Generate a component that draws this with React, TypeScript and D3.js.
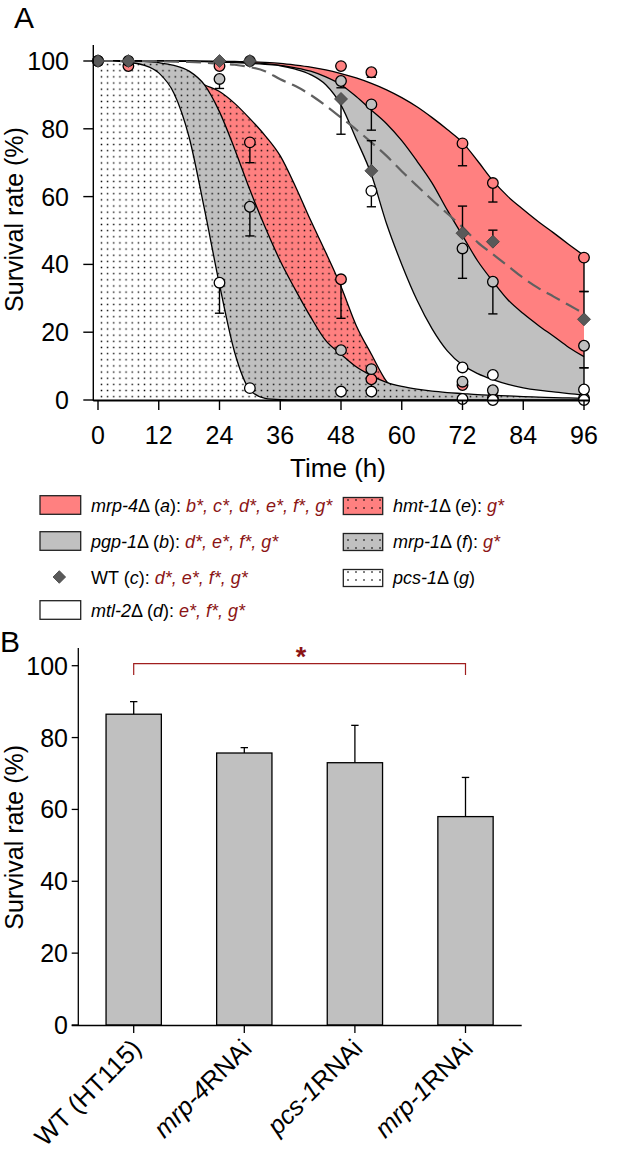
import React from 'react';
import * as d3 from 'd3';

// ---------- Panel A data ----------
const TIME_GRID = [0, 3, 6, 9, 12, 15, 18, 21, 24, 27, 30, 33, 36, 39, 42, 45, 48, 51, 54, 57, 60, 63, 66, 69, 72, 75, 78, 81, 84, 87, 90, 93, 96];
// fitted curves, one value per TIME_GRID entry
const FIT_MRP4 = [100, 100, 100, 100, 100, 100, 100, 99.95, 99.9, 99.85, 99.8, 99.6, 99.3, 98.8, 98.2, 97.4, 96.3, 95, 93.4, 91.5, 89.2, 86.5, 83.3, 79.8, 76, 70.5, 64.7, 60, 56.2, 52.6, 49.3, 45.9, 42.6];
const FIT_PGP1 = [100, 100, 100, 100, 100, 100, 99.95, 99.9, 99.8, 99.7, 99.5, 99.2, 98.7, 98, 97, 95.3, 93, 89.5, 85.5, 81.5, 76.5, 70.5, 64, 56, 48.5, 41, 35, 29.5, 25.5, 22, 18.8, 15.5, 12.8];
const FIT_WT = [100, 100, 100, 100, 99.9, 99.8, 99.7, 99.5, 99.2, 98.9, 98.2, 97, 94.6, 92.6, 90, 86.8, 83.3, 79.8, 76, 72, 67.5, 63.2, 59, 55, 51, 46.5, 43, 39.5, 36, 33, 30.5, 28, 25.5];
const FIT_MTL2 = [100, 100, 100, 100, 100, 99.9, 99.9, 99.8, 99.7, 99.5, 99.3, 99, 98.6, 97.6, 96, 93, 87, 77, 66.5, 52, 40, 29.5, 21, 14.5, 10.3, 7.8, 6, 4.6, 3.6, 2.9, 2.4, 1.9, 1.5];
const FIT_HMT1 = [100, 99.9, 99.7, 99.3, 98.5, 97.3, 95.5, 93, 91, 87.5, 83, 78, 72, 63, 53, 43.5, 33.5, 22, 13.5, 5.5, 2, 0.8, 0.3, 0.1, 0, 0, 0, 0, 0, 0, 0, 0, 0];
const FIT_MRP1 = [100, 100, 100, 99.9, 99.5, 98.7, 97, 93, 85, 74, 62, 51, 41, 32.5, 24.5, 17.5, 13.5, 9.8, 7.2, 5.2, 4, 3.2, 2.6, 2.2, 1.9, 1.6, 1.4, 1.2, 1, 0.85, 0.7, 0.6, 0.5];
const FIT_PCS1 = [100, 100, 99.6, 98.8, 96.5, 90.5, 77.5, 56.5, 34, 14, 3, 0.5, 0.1, 0, 0, 0, 0, 0, 0, 0, 0, 0, 0, 0, 0, 0, 0, 0, 0, 0, 0, 0, 0];

// measured points: time, mean, error (negative = bar drawn downwards)
const PTS_MRP4_T = [0, 6, 24, 48, 54, 72, 78, 96];
const PTS_MRP4_V = [100, 98.5, 98.5, 98.5, 96.7, 75.7, 64, 42];
const PTS_MRP4_E = [0, 0, 0, 0, -1.5, -6.6, -5.6, -10];
const PTS_PGP1_T = [0, 6, 24, 30, 48, 54, 72, 78, 96];
const PTS_PGP1_V = [100, 100, 94.7, 100, 94.1, 87.2, 44.7, 34.9, 16];
const PTS_PGP1_E = [0, 0, -2.8, 0, -2, -7.6, -8.8, -9.5, -6.5];
const PTS_WT_T = [0, 6, 24, 30, 48, 54, 72, 78, 96];
const PTS_WT_V = [100, 100, 100, 100, 88.8, 67.6, 49.2, 46.7, 23.8];
const PTS_WT_E = [0, 0, 0, 0, -10.4, 8.9, 8, 3.4, 8.2];
const PTS_MTL2_T = [54, 72, 78, 96];
const PTS_MTL2_V = [61.7, 9.6, 7.4, 3.1];
const PTS_MTL2_E = [-4.7, 0, 0, 6.4];
const PTS_HMT1_T = [30, 48, 54, 72, 78];
const PTS_HMT1_V = [76, 35.6, 6.1, 4.4, 0.5];
const PTS_HMT1_E = [-6, -11.5, -3, 0, 0];
const PTS_MRP1_T = [30, 48, 54, 72, 78, 96];
const PTS_MRP1_V = [57, 14.7, 9.1, 5.4, 2.9, 0.5];
const PTS_MRP1_E = [-8.6, 0, 0, 0, 0, 0];
const PTS_PCS1_T = [24, 30, 48, 54, 72, 78, 96];
const PTS_PCS1_V = [34.6, 3.5, 2.5, 2.5, 0.3, 0, 0];
const PTS_PCS1_E = [-9, 0, 0, 0, 0, 0, 0];

const TIME_TICKS = [0, 12, 24, 36, 48, 60, 72, 84, 96];
const SURV_TICKS = [0, 20, 40, 60, 80, 100];

// ---------- Panel B data ----------
const BAR_CATS = ['WT (HT115)', 'mrp-4RNAi', 'pcs-1RNAi', 'mrp-1RNAi'];
const BAR_VALUES = [86.5, 75.7, 73.0, 58.0];
const BAR_ERRORS = [3.5, 1.5, 10.4, 10.9];
const BAR_TICKS = [0, 20, 40, 60, 80, 100];

const RED = '#FF8080';
const GRAY = '#C0C0C0';
const DARKRED = '#8B1414';
const FONT = "Arial, 'Liberation Sans', sans-serif";

export default function App() {
  // Panel A scales
  const x = d3.scaleLinear().domain([0, 96]).range([98, 584]);
  const y = d3.scaleLinear().domain([0, 100]).range([400, 61]);
  const area = (vals: number[]) =>
    d3.area<number>()
      .x((_, i) => x(TIME_GRID[i]))
      .y0(y(0))
      .y1((d) => y(d))
      .curve(d3.curveMonotoneX)(vals) as string;
  const line = (vals: number[]) =>
    d3.line<number>()
      .x((_, i) => x(TIME_GRID[i]))
      .y((d) => y(d))
      .curve(d3.curveMonotoneX)(vals) as string;

  const regions = [
    { vals: FIT_MRP4, fill: RED },
    { vals: FIT_PGP1, fill: GRAY },
    { vals: FIT_MTL2, fill: '#FFFFFF' },
    { vals: FIT_HMT1, fill: 'url(#dotRed)' },
    { vals: FIT_MRP1, fill: 'url(#dotGray)' },
    { vals: FIT_PCS1, fill: 'url(#dotWhite)' },
  ];

  const pointSets = [
    { t: PTS_MRP4_T, v: PTS_MRP4_V, e: PTS_MRP4_E, fill: RED, shape: 'c' },
    { t: PTS_PGP1_T, v: PTS_PGP1_V, e: PTS_PGP1_E, fill: GRAY, shape: 'c' },
    { t: PTS_HMT1_T, v: PTS_HMT1_V, e: PTS_HMT1_E, fill: RED, shape: 'c' },
    { t: PTS_MRP1_T, v: PTS_MRP1_V, e: PTS_MRP1_E, fill: GRAY, shape: 'c' },
    { t: PTS_MTL2_T, v: PTS_MTL2_V, e: PTS_MTL2_E, fill: '#FFFFFF', shape: 'c' },
    { t: PTS_PCS1_T, v: PTS_PCS1_V, e: PTS_PCS1_E, fill: '#FFFFFF', shape: 'c' },
    { t: PTS_WT_T, v: PTS_WT_V, e: PTS_WT_E, fill: '#595959', shape: 'd' },
  ];

  // Panel B scales
  const xb = d3.scaleBand<string>().domain(BAR_CATS).range([78.4, 520.8]).paddingInner(0.5).paddingOuter(0.25);
  const yb = d3.scaleLinear().domain([0, 100]).range([1025, 665.7]);

  const diamond = (cx: number, cy: number, r: number) =>
    `M${cx},${cy - r}L${cx + r},${cy}L${cx},${cy + r}L${cx - r},${cy}Z`;

  const legendLeft = [
    { type: 'rect', fill: RED, gene: 'mrp-4', delta: true, letter: 'a', sig: 'b*, c*, d*, e*, f*, g*' },
    { type: 'rect', fill: GRAY, gene: 'pgp-1', delta: true, letter: 'b', sig: 'd*, e*, f*, g*' },
    { type: 'diamond', fill: '#595959', gene: 'WT', delta: false, letter: 'c', sig: 'd*, e*, f*, g*' },
    { type: 'rect', fill: '#FFFFFF', gene: 'mtl-2', delta: true, letter: 'd', sig: 'e*, f*, g*' },
  ];
  const legendRight = [
    { fill: 'url(#dotRedL)', gene: 'hmt-1', letter: 'e', sig: 'g*' },
    { fill: 'url(#dotGrayL)', gene: 'mrp-1', letter: 'f', sig: 'g*' },
    { fill: 'url(#dotWhiteL)', gene: 'pcs-1', letter: 'g', sig: '' },
  ];
  const legendRows = [505, 541, 577, 610];

  const dotPattern = (id: string, bg: string, s: number) => (
    <pattern id={id} patternUnits="userSpaceOnUse" width={s} height={s}>
      <rect width={s} height={s} fill={bg} />
      <rect x={s / 2 - 0.7} y={s / 2 - 0.7} width={1.4} height={1.4} fill="#000" />
    </pattern>
  );

  return (
    <svg width={625} height={1158} style={{ position: 'absolute', left: 0, top: 0, background: '#fff' }} fontFamily={FONT}>
      <defs>
        {dotPattern('dotRed', RED, 6.15)}
        {dotPattern('dotGray', GRAY, 6.15)}
        {dotPattern('dotWhite', '#FFFFFF', 6.15)}
        {dotPattern('dotRedL', RED, 8)}
        {dotPattern('dotGrayL', GRAY, 8)}
        {dotPattern('dotWhiteL', '#FFFFFF', 8)}
      </defs>
      <rect width={625} height={1158} fill="#fff" />

      {/* ---------------- Panel A ---------------- */}
      <text x={14} y={28} fontSize={30}>A</text>
      {regions.map((r, i) => (
        <g key={i}>
          <path d={area(r.vals)} fill={r.fill} stroke="none" />
          <path d={line(r.vals)} fill="none" stroke="#000" strokeWidth={1.3} />
        </g>
      ))}
      <path d={line(FIT_WT)} fill="none" stroke="#606060" strokeWidth={2.2} strokeDasharray="15,7" />

      {/* error bars */}
      {pointSets.map((s, si) =>
        s.t.map((t, i) => {
          const e = s.e[i];
          if (!e) return null;
          const cx = x(t);
          const y1 = y(s.v[i]);
          const y2 = y(s.v[i] + e);
          return (
            <g key={`e${si}-${i}`} stroke="#000" strokeWidth={1.4}>
              <line x1={cx} x2={cx} y1={y1} y2={y2} />
              <line x1={cx - 4.6} x2={cx + 4.6} y1={y2} y2={y2} />
            </g>
          );
        })
      )}
      {/* markers */}
      {pointSets.map((s, si) =>
        s.t.map((t, i) =>
          s.shape === 'c' ? (
            <circle key={`m${si}-${i}`} cx={x(t)} cy={y(s.v[i])} r={5.3} fill={s.fill} stroke="#000" strokeWidth={1.3} />
          ) : (
            <path key={`m${si}-${i}`} d={diamond(x(t), y(s.v[i]), 6.5)} fill={s.fill} stroke="#404040" strokeWidth={0.8} />
          )
        )
      )}

      {/* axes A */}
      <line x1={93.3} x2={93.3} y1={45} y2={401} stroke="#000" strokeWidth={1.4} />
      <line x1={93.3} x2={590} y1={400.5} y2={400.5} stroke="#000" strokeWidth={1.8} />
      {SURV_TICKS.map((v) => (
        <g key={`ya${v}`}>
          <line x1={83.3} x2={93.3} y1={y(v)} y2={y(v)} stroke="#000" strokeWidth={1.4} />
          <text x={69} y={y(v) + 9} fontSize={25} textAnchor="end">{v}</text>
        </g>
      ))}
      {TIME_TICKS.map((t) => (
        <g key={`xa${t}`}>
          <line x1={x(t)} x2={x(t)} y1={400.5} y2={410} stroke="#000" strokeWidth={1.4} />
          <text x={x(t)} y={444} fontSize={25} textAnchor="middle">{t}</text>
        </g>
      ))}
      <text transform={`translate(23,${(y(0) + y(100)) / 2 - 11}) rotate(-90)`} fontSize={25} textAnchor="middle">Survival rate (%)</text>
      <text x={338} y={477} fontSize={26} textAnchor="middle">Time (h)</text>

      {/* legend */}
      {legendLeft.map((l, i) => {
        const cy = legendRows[i];
        return (
          <g key={`ll${i}`}>
            {l.type === 'rect' ? (
              <rect x={40} y={cy - 9.3} width={40.7} height={18.6} fill={l.fill} stroke="#222" strokeWidth={1.3} />
            ) : (
              <path d={diamond(59.3, cy, 6.3)} fill={l.fill} stroke="#404040" strokeWidth={0.8} />
            )}
            <text x={91} y={cy + 6.5} fontSize={18}>
              {l.delta ? <tspan fontStyle="italic">{l.gene}</tspan> : <tspan>{l.gene}</tspan>}
              {l.delta ? 'Δ' : ''}
              {' ('}
              <tspan fontStyle="italic">{l.letter}</tspan>
              {'): '}
              <tspan fill={DARKRED} fontStyle="italic">{l.sig}</tspan>
            </text>
          </g>
        );
      })}
      {legendRight.map((l, i) => {
        const cy = legendRows[i] + 1;
        return (
          <g key={`lr${i}`}>
            <rect x={343.3} y={cy - 8.5} width={39.4} height={17} fill={l.fill} stroke="#222" strokeWidth={1.3} />
            <text x={393} y={cy + 6} fontSize={18}>
              <tspan fontStyle="italic">{l.gene}</tspan>
              {'Δ ('}
              <tspan fontStyle="italic">{l.letter}</tspan>
              {l.sig ? '): ' : ')'}
              {l.sig ? <tspan fill={DARKRED} fontStyle="italic">{l.sig}</tspan> : null}
            </text>
          </g>
        );
      })}

      {/* ---------------- Panel B ---------------- */}
      <text x={0} y={652} fontSize={30}>B</text>
      {BAR_CATS.map((c, i) => {
        const bx = xb(c) as number;
        const cx = bx + xb.bandwidth() / 2;
        const top = yb(BAR_VALUES[i]);
        const et = yb(BAR_VALUES[i] + BAR_ERRORS[i]);
        return (
          <g key={`b${i}`}>
            <line x1={cx} x2={cx} y1={top} y2={et} stroke="#000" strokeWidth={1.3} />
            <line x1={cx - 3.7} x2={cx + 3.7} y1={et} y2={et} stroke="#000" strokeWidth={1.3} />
            <rect x={bx} y={top} width={xb.bandwidth()} height={yb(0) - top} fill={GRAY} stroke="#000" strokeWidth={1.3} />
          </g>
        );
      })}
      <line x1={78.3} x2={78.3} y1={648} y2={1025} stroke="#000" strokeWidth={1.3} />
      <line x1={71.7} x2={521.7} y1={1025.5} y2={1025.5} stroke="#000" strokeWidth={1.5} />
      {BAR_TICKS.map((v) => (
        <g key={`yb${v}`}>
          <line x1={71.7} x2={78.3} y1={yb(v)} y2={yb(v)} stroke="#000" strokeWidth={1.3} />
          <text x={68} y={yb(v) + 9} fontSize={25} textAnchor="end">{v}</text>
        </g>
      ))}
      {BAR_CATS.map((c) => {
        const cx = (xb(c) as number) + xb.bandwidth() / 2;
        const m = c.match(/^([a-z]+-\d)(RNAi)$/);
        return (
          <g key={`xb${c}`}>
            <line x1={cx} x2={cx} y1={1025.5} y2={1033} stroke="#000" strokeWidth={1.3} />
            <text transform={`translate(${cx + 9},${1050}) rotate(-45)`} fontSize={25.5} textAnchor="end">
              {m ? (
                <>
                  <tspan fontStyle="italic">{m[1]}</tspan>
                  <tspan>{m[2]}</tspan>
                </>
              ) : (
                c
              )}
            </text>
          </g>
        );
      })}
      <text transform={`translate(23,${(yb(0) + yb(100)) / 2 - 8}) rotate(-90)`} fontSize={25} textAnchor="middle">Survival rate (%)</text>

      {/* significance bracket */}
      {(() => {
        const x1 = (xb(BAR_CATS[0]) as number) + xb.bandwidth() / 2;
        const x2 = (xb(BAR_CATS[3]) as number) + xb.bandwidth() / 2;
        const by = 663.7;
        return (
          <g>
            <path d={`M${x1},675V${by}H${x2}V675`} fill="none" stroke="#A01E1E" strokeWidth={1.2} />
            <text x={(x1 + x2) / 2 + 1.5} y={666} fontSize={27} fontWeight="bold" textAnchor="middle" fill={DARKRED}>*</text>
          </g>
        );
      })()}
    </svg>
  );
}
